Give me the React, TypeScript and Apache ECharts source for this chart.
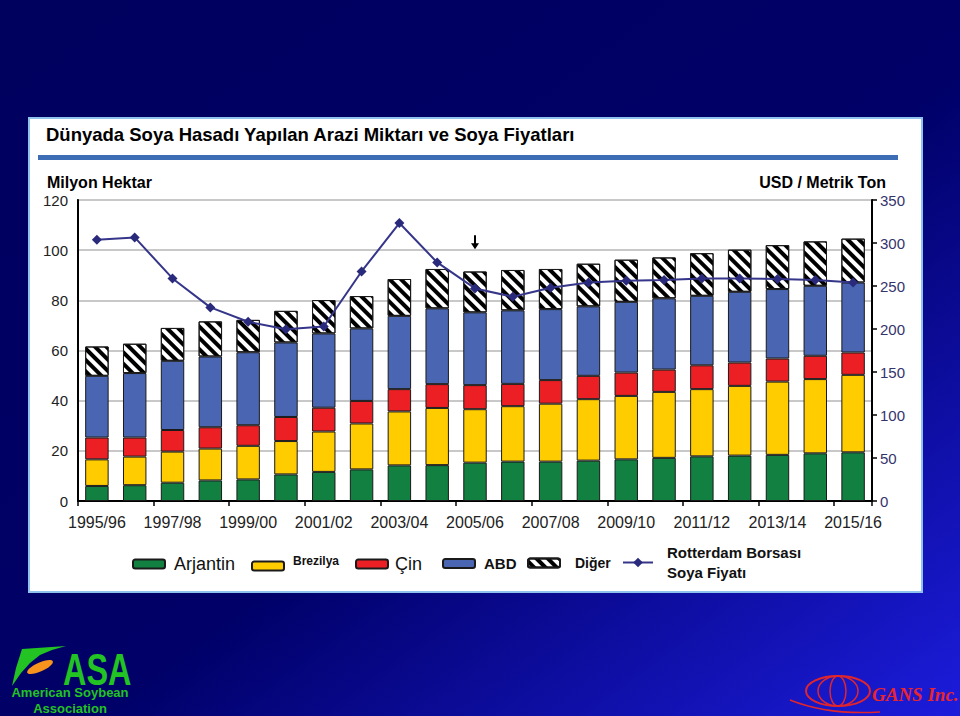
import React, { useEffect, useRef } from "react";
import * as echarts from "echarts";

const categories = [
  "1995/96", "1996/97", "1997/98", "1998/99", "1999/00", "2000/01", "2001/02",
  "2002/03", "2003/04", "2004/05", "2005/06", "2006/07", "2007/08", "2008/09",
  "2009/10", "2010/11", "2011/12", "2012/13", "2013/14", "2014/15", "2015/16",
];
const arjantin = [6.0, 6.3, 7.3, 8.2, 8.6, 10.6, 11.6, 12.6, 14.2, 14.3, 15.3, 15.7, 15.7, 16.1, 16.6, 17.2, 17.8, 18.1, 18.4, 19.0, 19.4];
const brezilya = [10.6, 11.4, 12.4, 12.7, 13.4, 13.3, 16.1, 18.3, 21.5, 22.8, 21.3, 22.1, 23.1, 24.5, 25.3, 26.3, 26.8, 27.8, 29.2, 29.6, 30.9];
const cin = [8.7, 7.6, 8.6, 8.5, 8.2, 9.6, 9.5, 9.0, 8.9, 9.5, 9.6, 8.9, 9.4, 9.3, 9.3, 8.9, 9.5, 9.3, 9.2, 9.3, 8.9];
const abd = [24.6, 25.7, 27.6, 28.2, 29.1, 29.7, 29.6, 28.9, 29.2, 30.2, 29.0, 29.3, 28.3, 27.7, 28.2, 28.4, 27.7, 28.2, 27.7, 27.9, 27.9];
const diger = [11.7, 11.7, 13.1, 14.0, 12.9, 12.6, 13.3, 12.9, 14.7, 15.7, 16.3, 16.1, 16.0, 17.0, 16.8, 16.3, 17.0, 16.8, 17.5, 17.7, 17.5];
const fiyat = [303.8, 306.5, 258.8, 225.1, 208.4, 199.8, 202.9, 266.9, 323.2, 277.4, 247.2, 237.5, 247.9, 254.1, 256.1, 256.9, 258.8, 258.8, 258.0, 256.9, 254.1];

const leftTicks = { min: 0, max: 120, interval: 20 };
const rightTicks = { min: 0, max: 350, interval: 50 };

const FF = "'Liberation Sans', Arial, Helvetica, sans-serif";

export default function App() {
  const ref = useRef<HTMLDivElement>(null);
  useEffect(() => {
    if (!ref.current) return;
    const chart = echarts.init(ref.current, null, { renderer: "svg" });
    const border = { borderColor: "#1a1a1a", borderWidth: 1 };
    const barBase = { type: "bar", stack: "alan", barWidth: "62%", yAxisIndex: 0 };
    const legendBase = {
      padding: 0,
      itemWidth: 32,
      itemHeight: 9,
      selectedMode: false,
      textStyle: { fontFamily: FF, color: "#111" },
    };
    const option: any = {
      animation: false,
      backgroundColor: new echarts.graphic.LinearGradient(0, 0, 1, 1, [
        { offset: 0, color: "#00005e" },
        { offset: 0.55, color: "#000068" },
        { offset: 1, color: "#1c1cdc" },
      ]),
      textStyle: { fontFamily: FF },
      title: [
        {
          text: "Dünyada Soya Hasadı Yapılan Arazi Miktarı ve Soya Fiyatları",
          left: 46, top: 125, padding: 0,
          textStyle: { fontFamily: FF, fontSize: 18.5, fontWeight: "bold", color: "#000" },
        },
        {
          text: "Milyon Hektar",
          left: 47, top: 174, padding: 0,
          textStyle: { fontFamily: FF, fontSize: 16, fontWeight: "bold", color: "#000" },
        },
        {
          text: "USD / Metrik Ton",
          right: 74, top: 174, padding: 0,
          textStyle: { fontFamily: FF, fontSize: 16, fontWeight: "bold", color: "#000" },
        },
      ],
      graphic: [
        {
          type: "rect", z: -10, silent: true,
          shape: { x: 29, y: 118, width: 893, height: 474 },
          style: { fill: "#ffffff", stroke: "#8fc3ee", lineWidth: 2 },
        },
        {
          type: "rect", z: -9, silent: true,
          shape: { x: 38, y: 155, width: 860, height: 5 },
          style: { fill: "#3d6db4" },
        },
        // ASA logo
        {
          type: "polygon", silent: true,
          shape: { points: [[22, 649], [66, 646], [52, 650], [40, 655], [30, 663], [21, 673], [12, 686], [16, 668]] },
          style: { fill: "#22c322" },
        },
        {
          type: "ellipse", silent: true, x: 40, y: 667, rotation: 0.42,
          shape: { cx: 0, cy: 0, rx: 14, ry: 4.5 },
          style: { fill: "#f7941d" },
        },
        {
          type: "text", silent: true, x: 63, y: 647, scaleX: 0.72,
          style: { text: "ASA", fill: "#22c322", font: `bold 45px ${FF}`, textAlign: "left", textVerticalAlign: "top" },
        },
        {
          type: "text", silent: true, x: 70, y: 692,
          style: { text: "American Soybean", fill: "#22c322", font: `bold 13px ${FF}`, textAlign: "center", textVerticalAlign: "middle" },
        },
        {
          type: "text", silent: true, x: 70, y: 708,
          style: { text: "Association", fill: "#22c322", font: `bold 13px ${FF}`, textAlign: "center", textVerticalAlign: "middle" },
        },
        // GANS logo
        {
          type: "ellipse", silent: true,
          shape: { cx: 838, cy: 691, rx: 32, ry: 15 },
          style: { fill: "none", stroke: "#e0262c", lineWidth: 2 },
        },
        {
          type: "ellipse", silent: true,
          shape: { cx: 838, cy: 691, rx: 20, ry: 15 },
          style: { fill: "none", stroke: "#e0262c", lineWidth: 1.5 },
        },
        {
          type: "ellipse", silent: true,
          shape: { cx: 838, cy: 691, rx: 8, ry: 15 },
          style: { fill: "none", stroke: "#e0262c", lineWidth: 1.5 },
        },
        {
          type: "bezierCurve", silent: true,
          shape: { x1: 790, y1: 700, x2: 880, y2: 712, cpx1: 820, cpy1: 712, cpx2: 850, cpy2: 714 },
          style: { fill: "none", stroke: "#e0262c", lineWidth: 1.5 },
        },
        {
          type: "text", silent: true, x: 872, y: 694,
          style: { text: "GANS Inc.", fill: "#e8242c", font: `italic bold 19px 'Liberation Serif', 'Times New Roman', serif`, textAlign: "left", textVerticalAlign: "middle" },
        },
      ],
      legend: [
        { ...legendBase, data: ["Arjantin"], left: 132, top: 555,
          formatter: "{a|{name}}", textStyle: { ...legendBase.textStyle, rich: { a: { fontSize: 18, fontFamily: FF, color: "#111", padding: [0, 0, 0, 4] } } } },
        { ...legendBase, data: ["Brezilya"], left: 251, top: 555,
          formatter: "{a|{name}}", textStyle: { ...legendBase.textStyle, rich: { a: { fontSize: 12, fontWeight: "bold", fontFamily: FF, color: "#111", padding: [0, 0, 10, 4] } } } },
        { ...legendBase, data: ["Çin"], left: 355, top: 555,
          formatter: "{a|{name}}", textStyle: { ...legendBase.textStyle, rich: { a: { fontSize: 18, fontFamily: FF, color: "#111", padding: [0, 0, 0, 2] } } } },
        { ...legendBase, data: ["ABD"], left: 442, top: 556,
          formatter: "{a|{name}}", textStyle: { ...legendBase.textStyle, rich: { a: { fontSize: 15, fontWeight: "bold", fontFamily: FF, color: "#111", padding: [0, 0, 0, 4] } } } },
        { ...legendBase, data: ["Diğer"], left: 527, top: 556,
          formatter: "{a|{name}}", textStyle: { ...legendBase.textStyle, rich: { a: { fontSize: 14, fontWeight: "bold", fontFamily: FF, color: "#111", padding: [0, 0, 0, 10] } } } },
        { ...legendBase, data: ["Rotterdam Borsası Soya Fiyatı"], left: 622, top: 545, itemWidth: 30, itemHeight: 12,
          formatter: () => "{a|Rotterdam Borsası}\n{a|Soya Fiyatı}",
          textStyle: { ...legendBase.textStyle, rich: { a: { fontSize: 15, fontWeight: "bold", fontFamily: FF, color: "#111", lineHeight: 20, padding: [0, 0, 0, 9] } } } },
      ],
      grid: {
        left: 78, right: 88, top: 200, bottom: 215,
        show: true, borderColor: "#000", borderWidth: 1.5, backgroundColor: "transparent",
      },
      xAxis: {
        type: "category",
        data: categories,
        axisLine: { lineStyle: { color: "#000", width: 2 } },
        axisTick: { show: true, length: 5, lineStyle: { color: "#000", width: 1.5 } },
        axisLabel: { interval: 1, fontSize: 16, color: "#222", margin: 13, fontFamily: FF },
      },
      yAxis: [
        {
          type: "value", ...leftTicks, position: "left",
          axisLine: { show: true, lineStyle: { color: "#000", width: 2 } },
          axisTick: { show: false },
          axisLabel: { fontSize: 15, color: "#222", margin: 10, fontFamily: FF },
          splitLine: { show: true, lineStyle: { color: "#c8c8c8", width: 2 } },
        },
        {
          type: "value", ...rightTicks, position: "right",
          axisLine: { show: true, lineStyle: { color: "#000", width: 2 } },
          axisTick: { show: true, length: 5, lineStyle: { color: "#000", width: 1.5 } },
          axisLabel: { fontSize: 15, color: "#34346c", margin: 8, fontFamily: FF },
          splitLine: { show: false },
        },
      ],
      series: [
        { ...barBase, name: "Arjantin", data: arjantin, itemStyle: { color: "#118040", ...border } },
        { ...barBase, name: "Brezilya", data: brezilya, itemStyle: { color: "#ffcc00", ...border } },
        { ...barBase, name: "Çin", data: cin, itemStyle: { color: "#ec2024", ...border } },
        { ...barBase, name: "ABD", data: abd, itemStyle: { color: "#4a66b2", ...border } },
        {
          ...barBase, name: "Diğer", data: diger,
          itemStyle: {
            color: "#ffffff", ...border,
            decal: {
              symbol: "rect", symbolSize: 1, color: "#000000",
              dashArrayX: [1, 0], dashArrayY: [3.5, 3.5], rotation: Math.PI / 4,
            },
          },
        },
        {
          type: "line", name: "Rotterdam Borsası Soya Fiyatı", data: fiyat, yAxisIndex: 1,
          symbol: "diamond", symbolSize: 10, z: 5,
          lineStyle: { color: "#35358a", width: 2 },
          itemStyle: { color: "#2a2a7c" },
          markPoint: {
            silent: true,
            data: [
              {
                coord: ["2005/06", 301],
                symbol: "path://M3,0 L5,0 L5,8 L8,8 L4,14 L0,8 L3,8 Z",
                symbolSize: [8, 14],
                itemStyle: { color: "#000" },
                label: { show: false },
              },
            ],
          },
        },
      ],
    };
    chart.setOption(option);
    return () => chart.dispose();
  }, []);
  return (
    <div
      ref={ref}
      style={{ position: "fixed", left: 0, top: 0, width: 960, height: 716 }}
    />
  );
}
